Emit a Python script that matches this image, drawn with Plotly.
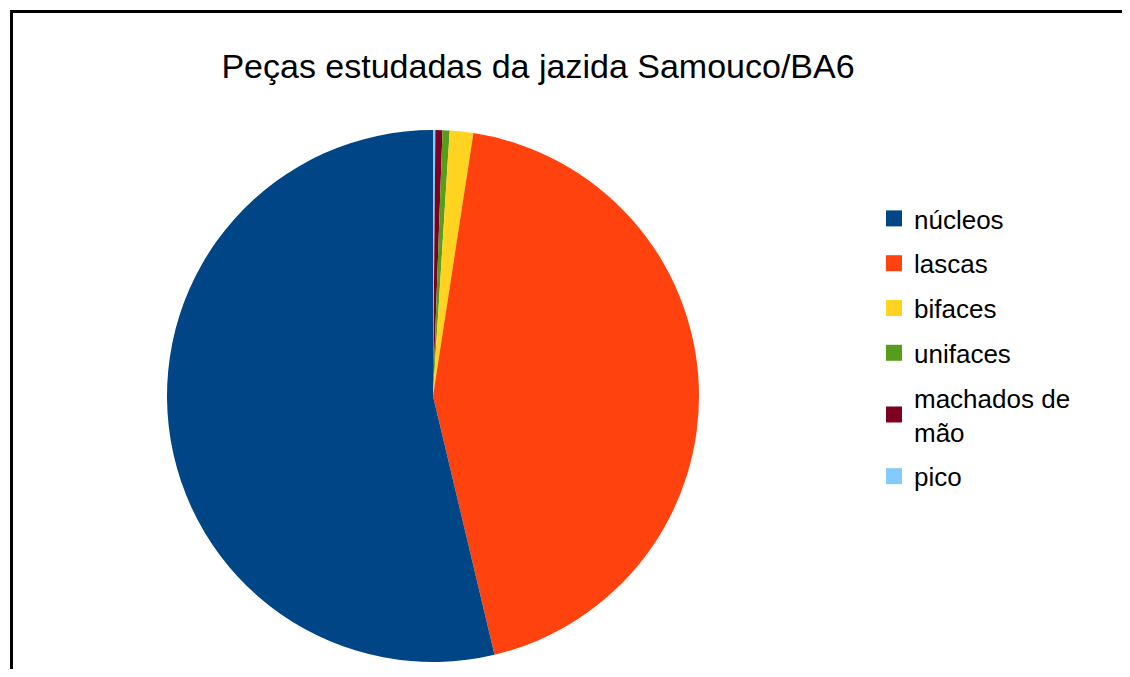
import plotly.graph_objects as go

# page body margin offset (browser default) compensated here
OFF = 8
W, H = 1130 - 2 * OFF, 677 - 2 * OFF

categories = ["núcleos", "lascas", "bifaces", "unifaces", "machados de<br>mão", "pico"]
counts = [376, 307, 10, 3, 3, 1]
colors = ["#004586", "#ff420e", "#ffd320", "#579d1c", "#7e0021", "#83caff"]
title_text = "Peças estudadas da jazida Samouco/BA6"


def px(x):
    return (x - OFF) / W


def py(y):
    return 1 - (y - OFF) / H


# pie geometry (screen pixels)
cx, cy, r = 433, 396, 266

fig = go.Figure()
fig.add_trace(go.Pie(
    labels=categories[::-1], values=counts[::-1], sort=False, direction="clockwise",
    rotation=0, textinfo="none", hoverinfo="label+value+percent",
    marker=dict(colors=colors[::-1], line=dict(width=0)),
    showlegend=False,
    domain=dict(x=[px(cx - r), px(cx + r)], y=[py(cy + r), py(cy - r)]),
))

# legend entries (markers matching slice colours)
for i, (lab, col) in enumerate(zip(categories, colors)):
    fig.add_trace(go.Scatter(
        x=[None], y=[None], mode="markers", name=lab, legendgroup=f"g{i}",
        marker=dict(symbol="square", size=16, color=col),
        showlegend=True,
    ))

fig.update_layout(
    width=W, height=H,
    margin=dict(l=0, r=0, t=0, b=0),
    paper_bgcolor="white", plot_bgcolor="white",
    font=dict(family="Liberation Sans, Arial, sans-serif", color="black"),
    title=dict(text=title_text, x=px(538), xanchor="center", y=py(66), yanchor="middle",
               yref="container", xref="container",
               font=dict(size=34, family="Liberation Sans, Arial, sans-serif", color="black")),
    xaxis=dict(visible=False), yaxis=dict(visible=False),
    legend=dict(x=px(874), xanchor="left", y=py(195), yanchor="top",
                font=dict(size=26, family="Liberation Sans, Arial, sans-serif", color="black"),
                traceorder="grouped", tracegroupgap=8, itemsizing="trace",
                bgcolor="rgba(0,0,0,0)"),
    shapes=[
        dict(type="line", xref="paper", yref="paper",
             x0=px(10), x1=1.1, y0=py(11.5), y1=py(11.5),
             line=dict(color="black", width=3)),
        dict(type="line", xref="paper", yref="paper",
             x0=px(11.5), x1=px(11.5), y0=-0.1, y1=py(10),
             line=dict(color="black", width=3)),
    ],
)

fig.write_html("out.html")
